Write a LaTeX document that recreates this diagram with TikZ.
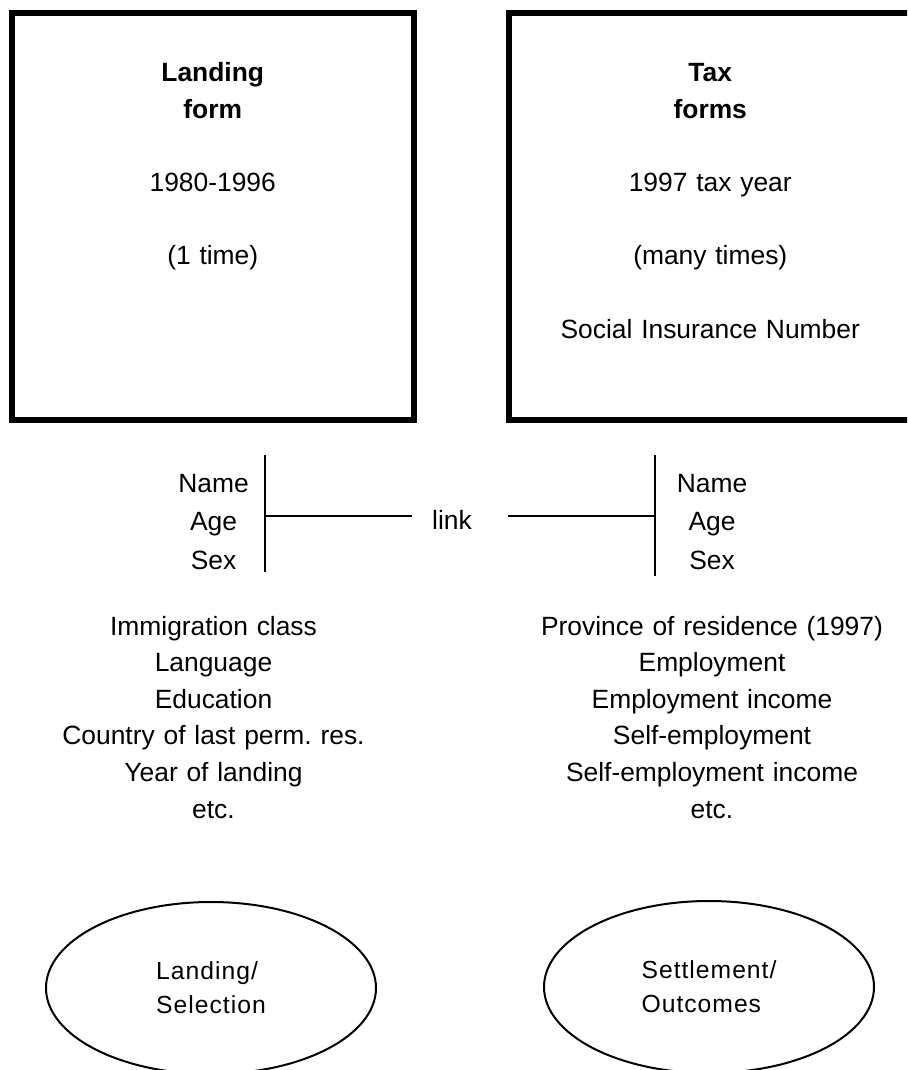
\documentclass[tikz,border=0pt]{standalone}
\usepackage{fontspec}
\setmainfont{Liberation Sans}
\newfontfamily\ovalfont[LetterSpace=4]{Liberation Sans}
\usetikzlibrary{shapes.geometric,positioning}
\frenchspacing
\tikzset{
  formbox/.style={rectangle, draw=black, line width=3pt, minimum width=201.25pt,
    minimum height=203.5pt, inner sep=0pt},
  formtext/.style={anchor=base, align=center, text width=190pt, inner sep=0pt,
    font=\fontsize{13.2}{18.3}\selectfont},
  keytext/.style={anchor=base, align=center, text width=60pt, inner sep=0pt,
    font=\fontsize{13.2}{19.25}\selectfont},
  listtext/.style={anchor=base, align=center, text width=200pt, inner sep=0pt,
    font=\fontsize{13.2}{18.3}\selectfont},
  outcome/.style={ellipse, draw=black, line width=1pt, minimum width=165pt,
    minimum height=86pt, inner sep=0pt, align=left,
    font=\ovalfont\fontsize{12.35}{17}\selectfont},
  linkline/.style={line width=0.9pt}
}
\begin{document}
\begin{tikzpicture}[x=0.5pt, y=-0.5pt]
\clip (0,0) rectangle (907,1070);
% the two record sources
\node[formbox] (landbox) at (212.75,216.5) {};
\node[formbox] (taxbox) at (710.25,216.5) {};
\node[formtext] (landtext) at (212.75,82) {\textbf{Landing}\\\textbf{form}\\[18.3pt]1980-1996\\[18.3pt](1 time)};
\node[formtext] (taxtext) at (710.25,82) {\textbf{Tax}\\\textbf{forms}\\[18.3pt]1997 tax year\\[18.3pt](many times)\\[18.3pt]Social Insurance Number};
% matching keys
\node[keytext] (landkey) at (213.5,492) {Name\\Age\\Sex};
\node[keytext] (taxkey) at (712,492) {Name\\Age\\Sex};
\node[inner sep=0pt, anchor=base, font=\fontsize{13.2}{18.3}\selectfont] (link) at (452,529) {link};
\coordinate (lbartop) at (265,455);
\coordinate (lbarbot) at (265,572);
\coordinate (lbarmid) at (265,515.7);
\coordinate (rbartop) at (655,455);
\coordinate (rbarbot) at (655,576);
\coordinate (rbarmid) at (655,515.7);
\draw[linkline] (lbartop) -- (lbarbot);
\draw[linkline] (rbartop) -- (rbarbot);
\draw[linkline] (lbarmid) -- ([xshift=-10pt]lbarmid -| link.west);
\draw[linkline] (rbarmid) -- ([xshift=18pt]rbarmid -| link.east);
% variables on each file
\node[listtext] (landvars) at (213.5,635) {Immigration class\\Language\\Education\\Country of last perm. res.\\Year of landing\\etc.};
\node[listtext] (taxvars) at (712,635) {Province of residence (1997)\\Employment\\Employment income\\Self-employment\\Self-employment income\\etc.};
% outcomes
\node[outcome] (select) at (211,988) {Landing/\\Selection};
\node[outcome] (settle) at (709,987) {Settlement/\\Outcomes};
\end{tikzpicture}
\end{document}
